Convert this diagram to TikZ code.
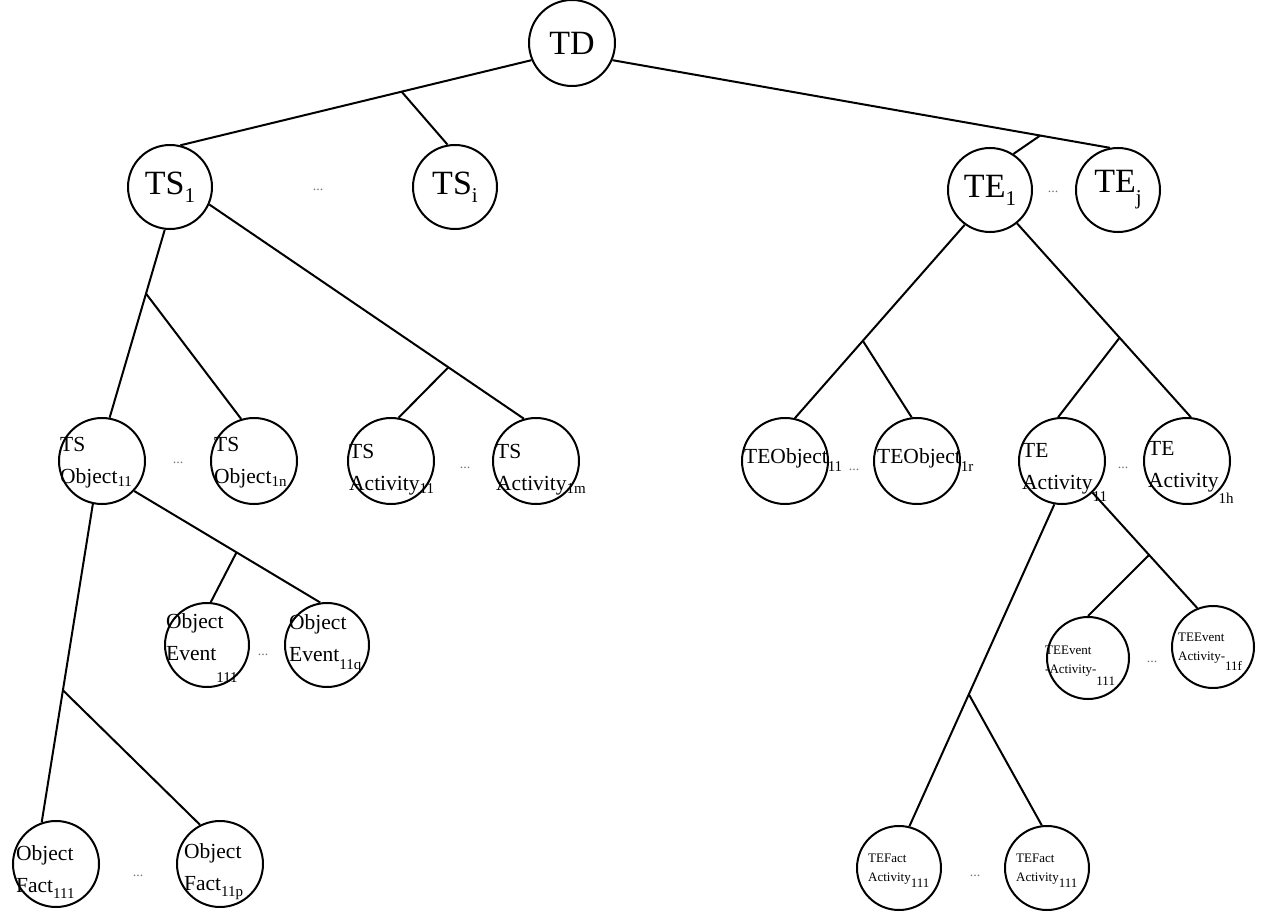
\documentclass[tikz,border=0pt]{standalone}
\usepackage{fontspec}
\setmainfont{Liberation Serif}
\usetikzlibrary{calc}
\newcommand{\mysb}[3]{\raisebox{#1}{\fontsize{#2}{#2}\selectfont #3}}
\begin{document}
\begin{tikzpicture}[x=1pt,y=-1pt,
  circ/.style={draw,circle,line width=2pt,minimum size=#1,inner sep=0pt},
  circ/.default=84pt,
  edge/.style={line width=2pt},
  lbl/.style={anchor=west,align=left,inner sep=0pt,font=\fontsize{21.5}{32}\selectfont},
  lbls/.style={anchor=west,align=left,inner sep=0pt,font=\fontsize{13}{19}\selectfont},
  big/.style={font=\fontsize{34}{36}\selectfont,inner sep=0pt},
  dots/.style={font=\fontsize{14}{14}\selectfont,text=black!55,inner sep=0pt}]
\useasboundingbox (0,0) rectangle (1275,912);
% level 1
\node[circ=86pt] (TD) at (572,43) {};
\node[big] (TDt) at (TD) {TD};
% level 2
\node[circ] (TS1) at (170,187) {};
\node[big] (TS1t) at (TS1) {TS\mysb{-8pt}{21}{1}};
\node[circ] (TSi) at (455,187) {};
\node[big] (TSit) at (TSi) {TS\mysb{-8pt}{21}{i}};
\node[circ] (TE1) at (990,190) {};
\node[big] (TE1t) at (TE1) {TE\mysb{-8pt}{21}{1}};
\node[circ] (TEj) at (1118,190) {};
\node[big] (TEjt) at (TEj) {TE\mysb{-12pt}{21}{j}};
\node[dots] (d1) at (318,190) {...};
\node[dots] (d2) at (1053,192) {...};
% level 3
\node[circ=86pt] (TO11) at (102,461) {};
\node[lbl] (TO11t) at (60,463) {TS\\Object\mysb{-3pt}{15}{11}};
\node[circ=86pt] (TO1n) at (254,461) {};
\node[lbl] (TO1nt) at (214,463) {TS\\Object\mysb{-3pt}{15}{1n}};
\node[circ=86pt] (TA11) at (391,461) {};
\node[lbl] (TA11t) at (349,470) {TS\\Activity\mysb{-3pt}{15}{11}};
\node[circ=86pt] (TA1m) at (536,461) {};
\node[lbl] (TA1mt) at (496,470) {TS\\Activity\mysb{-3pt}{15}{1m}};
\node[circ=86pt] (EO11) at (785,461) {};
\node[lbl] (EO11t) at (744,460) {TEObject\mysb{-8pt}{15}{11}};
\node[circ=86pt] (EO1r) at (917,461) {};
\node[lbl] (EO1rt) at (877,460) {TEObject\mysb{-8pt}{15}{1r}};
\node[circ=86pt] (EA11) at (1062,461) {};
\node[lbl] (EA11t) at (1022,472) {TE\\Activity\mysb{-12pt}{15}{11}};
\node[circ=86pt] (EA1h) at (1187,461) {};
\node[lbl] (EA1ht) at (1148,472) {TE\\Activity\mysb{-16pt}{15}{1h}};
\node[dots] (d3) at (178,463) {...};
\node[dots] (d4) at (465,468) {...};
\node[dots] (d5) at (854,470) {...};
\node[dots] (d6) at (1123,468) {...};
% level 4
\node[circ=84pt] (OE111) at (207,645) {};
\node[lbl] (OE111t) at (166,648) {Object\\Event\mysb{-22pt}{15}{111}};
\node[circ=84pt] (OE11q) at (327,645) {};
\node[lbl] (OE11qt) at (289,644) {Object\\Event\mysb{-8pt}{15}{11q}};
\node[circ=82pt] (EE111) at (1088,658) {};
\node[lbls] (EE111t) at (1045,666) {TEEvent\\-Activity-\mysb{-12pt}{13}{111}};
\node[circ=82pt] (EE11f) at (1213,647) {};
\node[lbls] (EE11ft) at (1178,652) {TEEvent\\Activity-\mysb{-10pt}{13}{11f}};
\node[dots] (d7) at (263,655) {...};
\node[dots] (d8) at (1152,662) {...};
% level 5
\node[circ=86pt] (OF111) at (56,864) {};
\node[lbl] (OF111t) at (16,872) {Object\\Fact\mysb{-6pt}{15}{111}};
\node[circ=86pt] (OF11p) at (220,864) {};
\node[lbl] (OF11pt) at (184,872) {Object\\Fact\mysb{-6pt}{15}{11p}};
\node[circ=84pt] (EF111) at (899,868) {};
\node[lbls] (EF111t) at (868,871) {TEFact\\Activity\mysb{-6pt}{13}{111}};
\node[circ=84pt] (EF2) at (1047,868) {};
\node[lbls] (EF2t) at (1016,871) {TEFact\\Activity\mysb{-6pt}{13}{111}};
\node[dots] (d9) at (138,876) {...};
\node[dots] (d10) at (975,876) {...};
% edges level 1-2
\draw[edge] (TD.203) -- (TS1.76);
\coordinate (b1) at ($(TD.203)!0.37!(TS1.76)$);
\draw[edge] (b1) -- (TSi.100);
\draw[edge] (TD.337) -- (TEj.101);
\coordinate (b2) at ($(TD.337)!0.86!(TEj.101)$);
\draw[edge] (b2) -- (TE1.57);
% TS1 children
\draw[edge] (TS1.263) -- (TO11.80);
\coordinate (b3) at ($(TS1.263)!0.34!(TO11.80)$);
\draw[edge] (b3) -- (TO1n.107);
\draw[edge] (TS1.336) -- (TA1m.106);
\coordinate (b4) at ($(TS1.336)!0.76!(TA1m.106)$);
\draw[edge] (b4) -- (TA11.80);
% TE1 children
\draw[edge] (TE1.234) -- (EO11.77);
\coordinate (b5) at ($(TE1.234)!0.6!(EO11.77)$);
\draw[edge] (b5) -- (EO1r.97);
\draw[edge] (TE1.309) -- (EA1h.85);
\coordinate (b6) at ($(TE1.309)!0.59!(EA1h.85)$);
\draw[edge] (b6) -- (EA11.95);
% TS Object11 children
\draw[edge] (TO11.258) -- (OF111.109);
\coordinate (b7) at ($(TO11.258)!0.585!(OF111.109)$);
\draw[edge] (b7) -- (OF11p.117);
\draw[edge] (TO11.317) -- (OE11q.99);
\coordinate (b8) at ($(TO11.317)!0.55!(OE11q.99)$);
\draw[edge] (b8) -- (OE111.85);
% TE Activity11 children
\draw[edge] (EA11.260) -- (EF111.76);
\coordinate (b9) at ($(EA11.260)!0.59!(EF111.76)$);
\draw[edge] (b9) -- (EF2.97);
\draw[edge] (EA11.314) -- (EE11f.112);
\coordinate (b10) at ($(EA11.314)!0.54!(EE11f.112)$);
\draw[edge] (b10) -- (EE111.90);
\end{tikzpicture}
\end{document}
